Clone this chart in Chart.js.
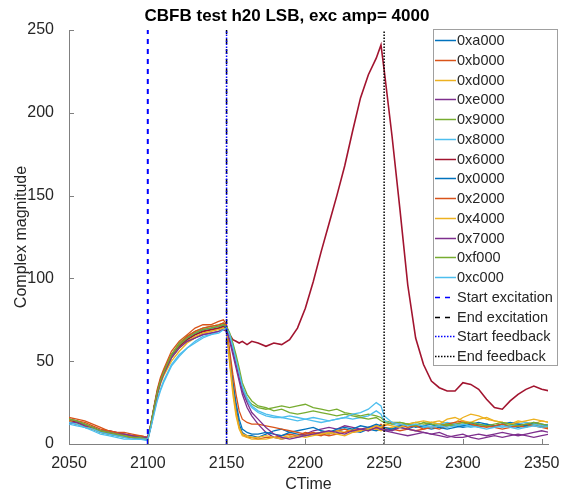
<!DOCTYPE html>
<html>
<head>
<meta charset="utf-8">
<script src="https://cdn.jsdelivr.net/npm/chart.js@4.4.1/dist/chart.umd.min.js"></script>
<style>
  html, body { margin: 0; padding: 0; background: #fff; }
  canvas { display: block; }
</style>
</head>
<body>
<canvas id="cbfb_chart" width="561" height="495"></canvas>
<script>
// sample times (CTime), shared by every channel
const ctime = [
  2050, 2055, 2060, 2065, 2070, 2075, 2080, 2085, 2090, 2095, 2100,
  2102, 2104, 2106, 2108, 2110, 2115, 2120, 2125, 2130, 2135, 2140, 2145, 2148, 2150,
  2152, 2154, 2156, 2158, 2160, 2163, 2166, 2170,
  2175, 2180, 2185, 2190, 2195, 2200, 2205, 2210, 2215, 2220, 2225, 2230, 2235, 2240, 2245, 2248,
  2250, 2255, 2260, 2265, 2270, 2275, 2280, 2285, 2290, 2295, 2300, 2305, 2310, 2315, 2320, 2325,
  2330, 2335, 2340, 2345, 2350, 2355
];

const seriesLabels = ['0xa000', '0xb000', '0xd000', '0xe000', '0x9000', '0x8000', '0x6000',
                      '0x0000', '0x2000', '0x4000', '0x7000', '0xf000', '0xc000'];

// complex magnitude per channel
const mag_a000 = [13,12,10,9,7,6,5,5,4,3,3,
  11,21,30,37,42,52,58,63,66,68,69,70,70,69,
  52,36,22,12,7,5,5,4,
  6,8,9,7,6,5,6,7,6,8,9,8,7,9,8,9,
  8,9,10,9,11,10,9,10,12,11,10,11,12,11,10,12,11,10,11,12,10,11];
const mag_b000 = [16,15,14,12,10,8,7,7,6,5,4,
  12,23,33,40,45,56,62,66,70,72,72,74,75,72,
  50,34,20,10,6,4,4,3,
  4,4,5,6,5,7,6,5,7,8,9,7,8,10,9,12,
  10,9,8,9,8,9,10,9,11,12,13,12,10,11,10,9,10,11,10,12,11,10];
const mag_d000 = [14,13,12,10,8,7,6,5,5,4,3,
  11,21,30,36,41,50,56,61,64,67,68,70,71,70,
  48,30,17,9,5,4,3,3,
  3,4,4,5,4,5,6,7,6,8,7,9,8,10,9,8,
  9,10,11,10,12,11,13,14,12,13,16,18,17,15,14,13,12,14,13,12,14,13];
const mag_e000 = [13,12,11,9,8,8,7,6,5,4,3,
  11,22,31,38,43,53,59,62,64,66,67,68,69,69,
  62,54,46,38,30,22,17,12,
  7,4,3,4,5,6,8,9,10,9,11,10,9,10,11,10,
  9,8,10,9,8,7,6,7,5,4,4,5,6,5,6,7,6,5,6,7,8,7];
const mag_9000 = [14,13,11,9,7,6,5,4,4,3,3,
  12,22,31,38,44,54,61,65,68,70,71,72,73,71,
  66,60,52,43,34,27,24,22,
  21,22,23,22,23,24,22,21,20,21,19,18,17,18,17,16,
  14,13,13,12,13,12,13,12,11,12,13,12,11,12,11,12,11,12,11,12,11,10];
const mag_8000 = [12,11,10,8,6,5,4,3,3,3,2,
  10,19,27,33,38,48,54,58,62,65,66,68,70,70,
  65,58,50,42,33,26,22,19,
  17,16,16,17,16,15,16,15,14,15,16,15,16,17,20,18,
  14,12,11,12,11,10,11,12,13,12,11,10,11,12,11,10,11,12,13,12,11,12];
const mag_6000 = [14,13,11,9,8,7,6,5,4,4,3,
  12,22,31,38,43,53,59,63,66,68,69,70,71,70,
  66,63,62,61,62,60,62,61,
  59,61,60,63,70,82,98,116,133,150,168,189,209,223,233,241,
  226,186,142,96,64,48,38,34,32,32,37,36,33,27,22,21,26,30,33,35,33,32];
const mag_0000 = [15,14,12,10,8,7,6,5,5,4,4,
  12,22,31,38,43,53,60,64,67,69,70,71,72,70,
  54,38,25,15,9,7,6,6,
  7,6,5,7,8,9,10,8,7,9,10,9,11,10,12,11,
  10,9,11,12,10,11,12,10,9,10,11,12,13,12,11,12,13,12,11,13,12,11];
const mag_2000 = [15,14,13,11,9,8,7,6,5,5,4,
  12,22,32,39,44,54,60,65,68,70,71,72,73,71,
  56,42,30,20,15,13,12,12,
  11,10,9,8,7,6,7,6,5,6,7,8,9,8,10,9,
  11,13,12,10,11,9,10,11,12,13,14,12,11,10,11,12,10,11,12,11,10,9];
const mag_4000 = [14,12,11,9,8,7,6,5,4,4,3,
  11,21,30,37,42,52,58,62,65,67,68,69,70,69,
  50,33,19,10,6,5,4,4,
  5,4,3,4,5,4,5,6,7,6,5,7,8,9,11,10,
  12,11,10,12,13,14,13,12,15,16,14,13,15,16,14,13,12,13,14,15,14,13];
const mag_7000 = [13,13,11,10,8,7,6,6,5,4,4,
  11,21,30,37,42,52,58,62,64,66,67,68,69,68,
  63,56,48,40,32,25,19,15,
  10,6,4,3,4,5,6,7,8,7,6,8,9,8,10,9,
  8,7,6,5,6,7,6,5,4,5,6,4,3,4,5,4,5,6,5,4,5,6];
const mag_f000 = [15,14,12,10,8,7,6,5,4,4,3,
  12,22,31,38,43,54,60,64,67,69,70,71,72,71,
  67,61,54,46,37,30,26,23,
  22,20,21,19,18,19,20,19,18,17,18,17,16,15,16,14,
  13,12,13,12,11,13,12,11,12,11,12,13,12,11,12,13,12,11,12,13,12,11];
const mag_c000 = [13,12,10,9,7,6,5,4,3,3,3,
  10,18,26,32,37,47,53,58,61,64,66,67,69,70,
  66,59,51,43,35,28,23,20,
  18,17,16,15,14,15,14,13,14,15,16,18,19,21,25,23,
  17,13,12,11,12,11,10,11,10,11,12,11,10,9,10,11,10,9,10,11,10,11];

const seriesValues = [mag_a000, mag_b000, mag_d000, mag_e000, mag_9000, mag_8000, mag_6000,
                      mag_0000, mag_2000, mag_4000, mag_7000, mag_f000, mag_c000];

// excitation / feedback markers
const markerLabels = ['Start excitation', 'End excitation', 'Start feedback', 'End feedback'];
const markerTimes = [2100, 2150, 2150, 2250];

const xTickValues = [2050, 2100, 2150, 2200, 2250, 2300, 2350];
const yTickValues = [0, 50, 100, 150, 200, 250];

const lineColors = ['#0072BD', '#D95319', '#EDB120', '#7E2F8E', '#77AC30', '#4DBEEE', '#A2142F'];
const markerStyles = [
  { color: '#0000FF', dash: [5, 5], width: 2 },
  { color: '#000000', dash: [5, 5], width: 1.5 },
  { color: '#0000FF', dash: [1.5, 1.5], width: 1.5 },
  { color: '#000000', dash: [1.5, 1.5], width: 1.5 },
];
const textColor = '#262626';
const axisColor = '#808080';
const fontFamily = '"Liberation Sans", Arial, Helvetica, sans-serif';

Chart.defaults.font.family = fontFamily;
Chart.defaults.color = textColor;

const seriesDatasets = seriesLabels.map((label, i) => ({
  label: label,
  data: ctime.map((t, k) => ({ x: t, y: seriesValues[i][k] })),
  borderColor: lineColors[i % lineColors.length],
  borderWidth: label === '0x6000' ? 1.6 : 1.3,
  pointRadius: 0,
  tension: 0,
  order: -i,
}));

const markerDatasets = markerLabels.map((label, i) => ({
  label: label,
  data: [{ x: markerTimes[i], y: yTickValues[0] }, { x: markerTimes[i], y: yTickValues[yTickValues.length - 1] }],
  borderColor: markerStyles[i].color,
  borderDash: markerStyles[i].dash,
  borderWidth: markerStyles[i].width,
  pointRadius: 0,
  order: -100 - i,
}));

// MATLAB style tick marks pointing into the axes
const inwardTicks = {
  id: 'inwardTicks',
  afterDraw(chart) {
    const { ctx, chartArea, scales } = chart;
    ctx.save();
    ctx.strokeStyle = axisColor;
    ctx.lineWidth = 1;
    ctx.beginPath();
    scales.x.ticks.forEach(t => {
      const px = Math.round(scales.x.getPixelForValue(t.value)) + 0.5;
      ctx.moveTo(px, chartArea.bottom);
      ctx.lineTo(px, chartArea.bottom - 5);
    });
    scales.y.ticks.forEach(t => {
      const py = Math.round(scales.y.getPixelForValue(t.value)) + 0.5;
      ctx.moveTo(chartArea.left, py);
      ctx.lineTo(chartArea.left + 5, py);
    });
    ctx.stroke();
    ctx.restore();
  }
};

const figureTitle = {
  id: 'figureTitle',
  afterDraw(chart) {
    const ctx = chart.ctx;
    ctx.save();
    ctx.font = 'bold 17px ' + fontFamily;
    ctx.fillStyle = '#000';
    ctx.textAlign = 'center';
    ctx.textBaseline = 'alphabetic';
    ctx.fillText('CBFB test h20 LSB, exc amp= 4000', 287, 21);
    ctx.restore();
  }
};

// boxed legend in the upper right corner
const boxLegend = {
  id: 'boxLegend',
  afterDraw(chart) {
    const ctx = chart.ctx;
    const left = 433.5, top = 29.5, width = 124, height = 336;
    const rowStart = 40, rowStep = 19.75;
    ctx.save();
    ctx.fillStyle = '#fff';
    ctx.fillRect(left, top, width, height);
    ctx.strokeStyle = '#a0a0a0';
    ctx.lineWidth = 1;
    ctx.strokeRect(left, top, width, height);

    ctx.font = '14.5px ' + fontFamily;
    ctx.textBaseline = 'middle';
    ctx.textAlign = 'left';
    chart.data.datasets.forEach((ds, i) => {
      const y = Math.round(rowStart + i * rowStep) + 0.5;
      ctx.beginPath();
      ctx.setLineDash(ds.borderDash || []);
      ctx.strokeStyle = ds.borderColor;
      ctx.lineWidth = 1.5;
      ctx.moveTo(435, y);
      ctx.lineTo(ds.borderDash && ds.borderDash[0] > 2 ? 454 : 456, y);
      ctx.stroke();
      ctx.setLineDash([]);
      ctx.fillStyle = textColor;
      ctx.fillText(ds.label, 457, y + 0.5);
    });
    ctx.restore();
  }
};

new Chart(document.getElementById('cbfb_chart'), {
  type: 'line',
  data: { datasets: seriesDatasets.concat(markerDatasets) },
  options: {
    responsive: false,
    animation: false,
    devicePixelRatio: 1,
    layout: { padding: { left: 12, right: 13, top: 30, bottom: 0 } },
    plugins: {
      legend: { display: false },
      title: { display: false },
      tooltip: { enabled: false },
    },
    scales: {
      x: {
        type: 'linear',
        min: 2050,
        max: 2354,
        grid: { display: false },
        border: { display: true, color: axisColor, width: 1 },
        afterBuildTicks: scale => { scale.ticks = xTickValues.map(v => ({ value: v })); },
        ticks: {
          padding: 2,
          color: textColor,
          font: { size: 16 },
          maxRotation: 0,
          autoSkip: false,
          callback: value => String(value),
        },
        title: { display: true, text: 'CTime', color: textColor, font: { size: 16 }, padding: { top: 0, bottom: 1 } },
        afterFit: scale => {
          scale.height = 51;
          scale.paddingLeft = 0;
          scale.paddingRight = 0;
        },
      },
      y: {
        min: 0,
        max: 250,
        grid: { display: false },
        border: { display: true, color: axisColor, width: 1 },
        afterBuildTicks: scale => { scale.ticks = yTickValues.map(v => ({ value: v })); },
        ticks: {
          padding: 7,
          color: textColor,
          font: { size: 16 },
          autoSkip: false,
          callback: value => String(value),
        },
        title: { display: true, text: 'Complex magnitude', color: textColor, font: { size: 16 }, padding: { top: 0, bottom: 0 } },
        afterFit: scale => {
          scale.width = 57;
          scale.paddingTop = 0;
          scale.paddingBottom = 0;
        },
      },
    },
  },
  plugins: [inwardTicks, figureTitle, boxLegend],
});
</script>
</body>
</html>
